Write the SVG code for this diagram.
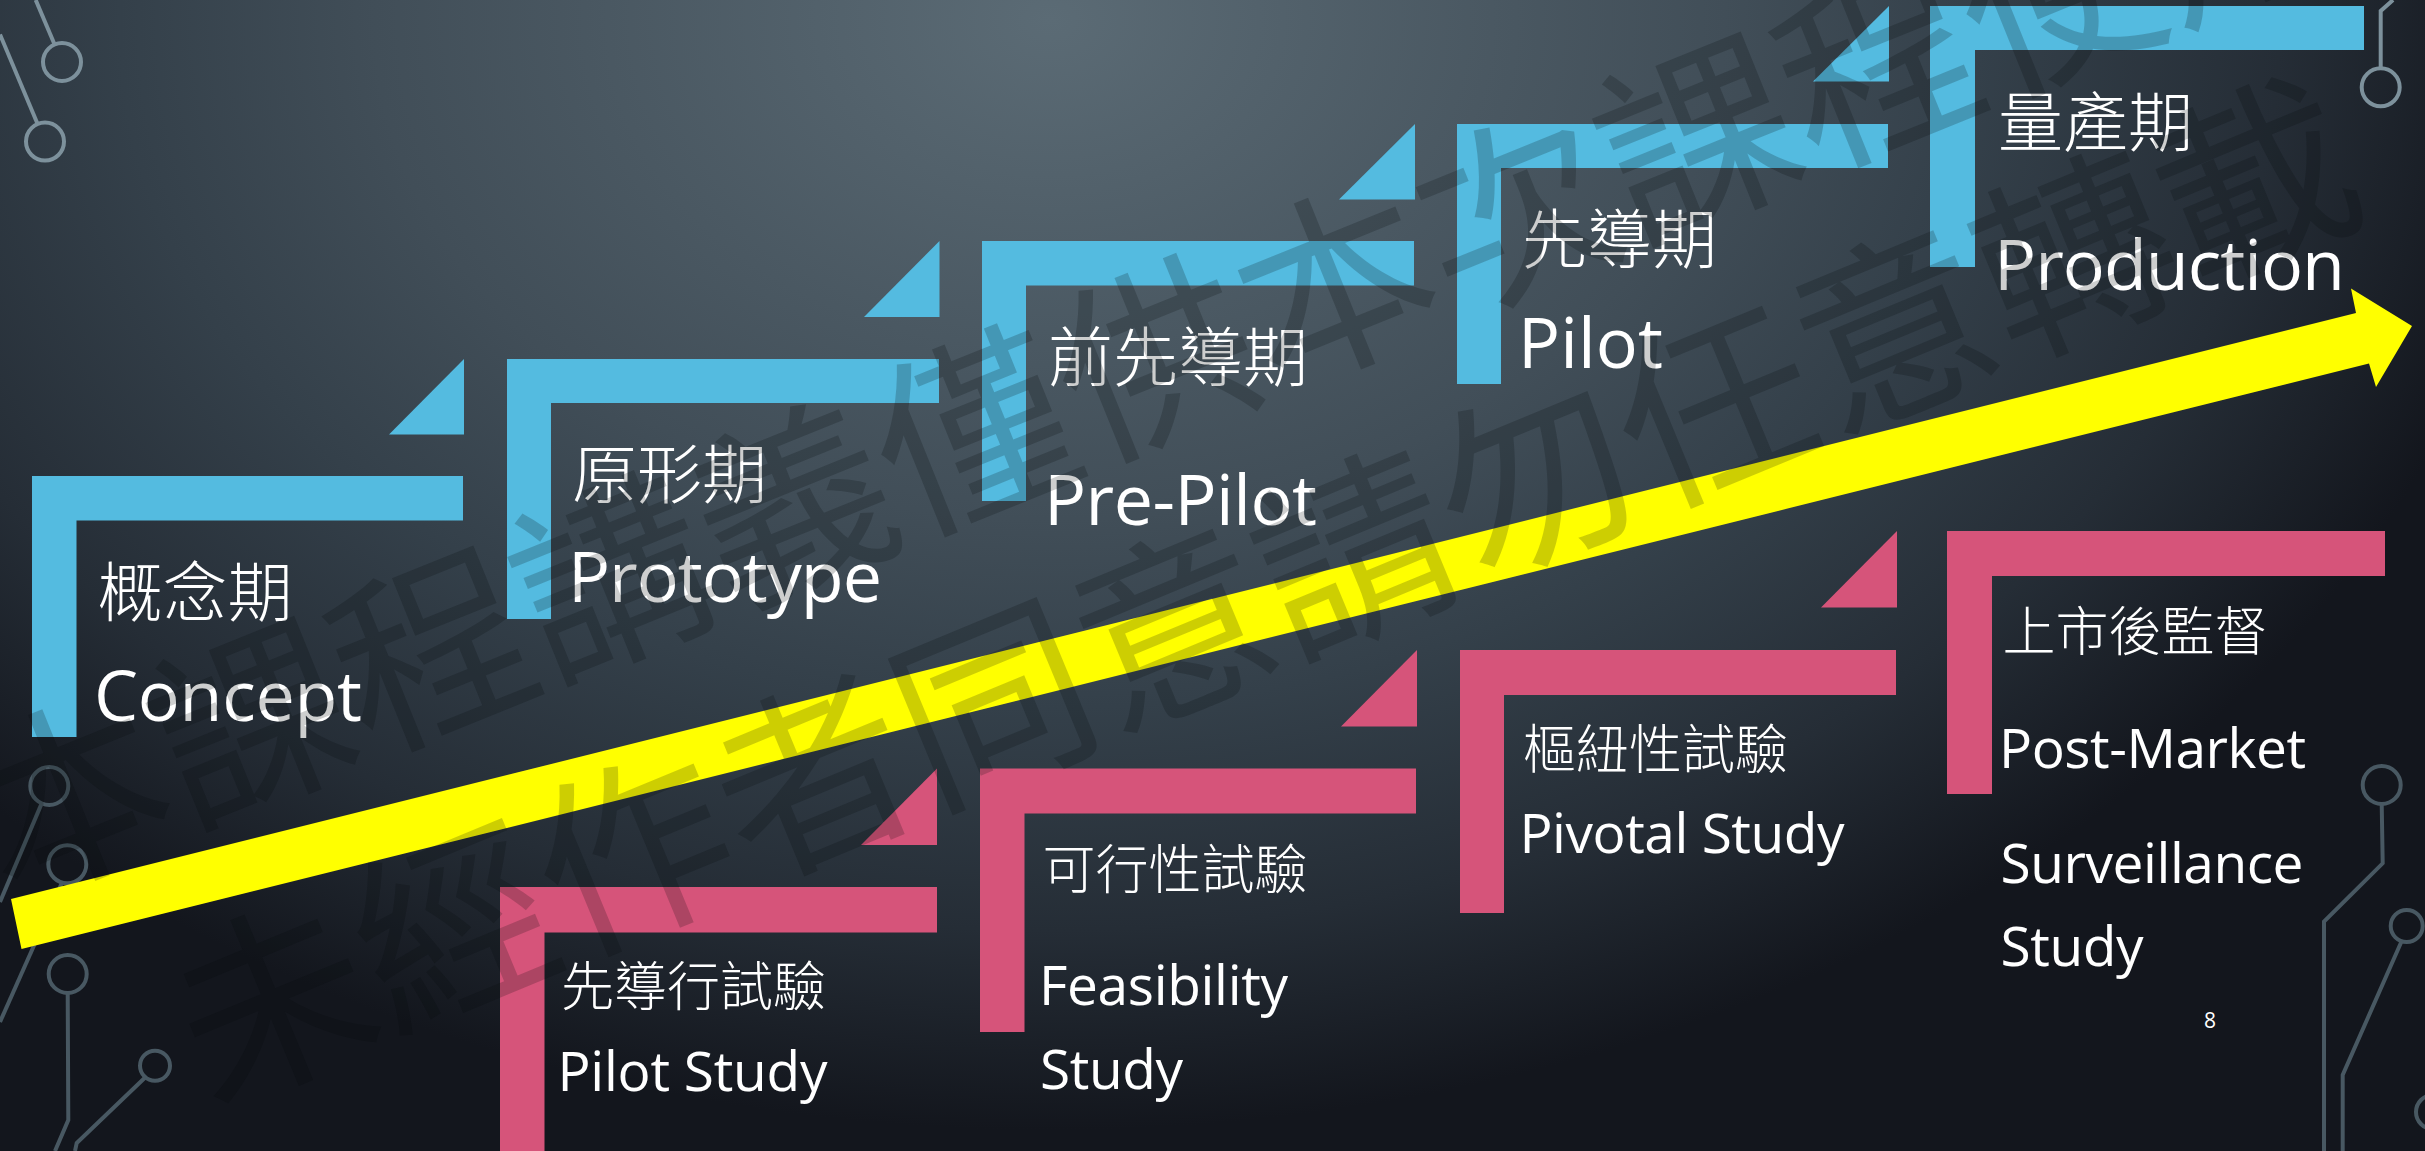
<svg xmlns="http://www.w3.org/2000/svg" width="2425" height="1151" viewBox="0 0 2425 1151">
<defs>
<radialGradient id="bg" gradientUnits="userSpaceOnUse" cx="1050" cy="20" r="1500" gradientTransform="translate(1050 20) scale(1 0.74) translate(-1050 -20)">
<stop offset="0" stop-color="#5b6b75"/>
<stop offset="0.45" stop-color="#414e58"/>
<stop offset="0.62" stop-color="#34404a"/>
<stop offset="0.82" stop-color="#252d36"/>
<stop offset="1" stop-color="#13161d"/>
</radialGradient>
<style>
.blue{fill:#54bbe0}
.pink{fill:#d6547a}
.cjk{font-family:"Noto Sans CJK TC","Noto Sans CJK SC",sans-serif;fill:#ffffff;font-weight:300}
.up{font-size:65px}
.lo{font-size:53px}
.lat{font-family:"Open Sans","Noto Sans",sans-serif;fill:#ffffff}
.lu{font-size:70px}
.ll{font-size:55px}
.decoL{fill:none;stroke:#7d919c;stroke-width:4}
.decoD{fill:none;stroke:#485862;stroke-width:4}
.wm{font-family:"Noto Sans CJK TC","Noto Sans CJK SC",sans-serif;fill:#05080b;fill-opacity:0.2;font-size:195px}
</style>
</defs>
<rect x="0" y="0" width="2425" height="1151" fill="url(#bg)"/>

<g id="decorations">
<path class="decoL" d="M35.7,0 L54.6,44.5"/>
<circle class="decoL" cx="62" cy="62" r="19"/>
<path class="decoL" d="M0,34.4 L37.6,124"/>
<circle class="decoL" cx="45" cy="141.6" r="19"/>
<path class="decoL" d="M2393,0 L2380.7,11 L2380.7,68.3"/>
<circle class="decoL" cx="2380.7" cy="87.3" r="19"/>
<circle class="decoD" cx="49.3" cy="786" r="19"/>
<path class="decoD" d="M41.7,803.4 L0,902"/>
<circle class="decoD" cx="67.3" cy="864.3" r="19"/>
<path class="decoD" d="M61.7,883.3 L0,1022"/>
<circle class="decoD" cx="67.7" cy="974" r="19"/>
<path class="decoD" d="M67.7,993 L68.3,1120 L55,1151"/>
<circle class="decoD" cx="155" cy="1065.7" r="15"/>
<path class="decoD" d="M146.7,1076 L76.7,1143 L75,1151"/>
<circle class="decoD" cx="2381.7" cy="785" r="19"/>
<path class="decoD" d="M2381.7,804 L2382.7,863.3 L2324,921.7 L2324,1151"/>
<circle class="decoD" cx="2406.7" cy="926" r="16"/>
<path class="decoD" d="M2401.7,941 L2342.7,1075 L2342.7,1151"/>
<circle class="decoD" cx="2433" cy="1112" r="17"/>
</g>

<g id="connectors">
<polygon class="blue" points="464,359 464,434.5 389,434.5"/>
<polygon class="blue" points="939.5,241 939.5,317 864,317"/>
<polygon class="blue" points="1415,124 1415,199.5 1339,199.5"/>
<polygon class="blue" points="1889,6 1889,81.5 1813,81.5"/>
<polygon class="pink" points="937,768.5 937,845 861,845"/>
<polygon class="pink" points="1417,650 1417,726.5 1341,726.5"/>
<polygon class="pink" points="1897,531 1897,607.5 1821,607.5"/>
<polygon fill="#ffff00" points="11,899 2356,313 2351,288.5 2412,326 2376,387 2369,363.5 21.5,949"/>
</g>

<g id="stage-concept">
<path class="blue" d="M32,476 H463 V520.5 H76.5 V737 H32 Z"/>
<text class="cjk up" x="97.5" y="616">概念期</text>
<text class="lat lu" x="94" y="720.5" textLength="268">Concept</text>
</g>
<g id="stage-prototype">
<path class="blue" d="M507,359 H939 V403 H551 V619 H507 Z"/>
<text class="cjk up" x="572" y="498">原形期</text>
<text class="lat lu" x="568" y="602" textLength="314">Prototype</text>
</g>
<g id="stage-prepilot">
<path class="blue" d="M982,241 H1414 V285.5 H1026 V501 H982 Z"/>
<text class="cjk up" x="1048" y="381">前先導期</text>
<text class="lat lu" x="1044" y="524.5" textLength="273">Pre-Pilot</text>
</g>
<g id="stage-pilot">
<path class="blue" d="M1457,124 H1888 V168 H1501 V384 H1457 Z"/>
<text class="cjk up" x="1522" y="263">先導期</text>
<text class="lat lu" x="1518" y="367.5" textLength="145">Pilot</text>
</g>
<g id="stage-production">
<path class="blue" d="M1930,6 H2364 V50 H1975 V267 H1930 Z"/>
<text class="cjk up" x="1998" y="145.5">量產期</text>
<text class="lat lu" x="1994" y="290" textLength="351">Production</text>
</g>

<g id="study-pilot">
<path class="pink" d="M500,887 H937 V932.5 H544.5 V1151 H500 Z"/>
<text class="cjk lo" x="561" y="1006">先導行試驗</text>
<text class="lat ll" x="557.5" y="1090.5" textLength="270">Pilot Study</text>
</g>
<g id="study-feasibility">
<path class="pink" d="M980,768.5 H1416 V813.5 H1024.5 V1032 H980 Z"/>
<text class="cjk lo" x="1042.5" y="889">可行性試驗</text>
<text class="lat ll" x="1039" y="1005" textLength="249">Feasibility</text>
<text class="lat ll" x="1040" y="1088.5" textLength="143">Study</text>
</g>
<g id="study-pivotal">
<path class="pink" d="M1460,650 H1896 V695 H1504 V913 H1460 Z"/>
<text class="cjk lo" x="1523" y="768.5">樞紐性試驗</text>
<text class="lat ll" x="1519.5" y="853" textLength="325">Pivotal Study</text>
</g>
<g id="study-postmarket">
<path class="pink" d="M1947,531 H2385 V576 H1992 V794 H1947 Z"/>
<text class="cjk lo" x="2002.5" y="650.5">上市後監督</text>
<text class="lat ll" x="1999" y="767.5" textLength="307">Post-Market</text>
<text class="lat ll" x="2000.5" y="882.5" textLength="303">Surveillance</text>
<text class="lat ll" x="2000.5" y="966" textLength="143">Study</text>
</g>

<g id="page-number">
<text class="lat" x="2204" y="1028" font-size="21" fill="#e6e6e6">8</text>
</g>

<g id="watermark">
<text class="wm" transform="translate(69 795) rotate(-22)" x="-97.5" y="74">本課程講義僅供本次課程使用</text>
<text class="wm" transform="translate(272 1000) rotate(-22.5)" x="-97.5" y="74">未經作者同意請勿任意轉載</text>
</g>
</svg>
